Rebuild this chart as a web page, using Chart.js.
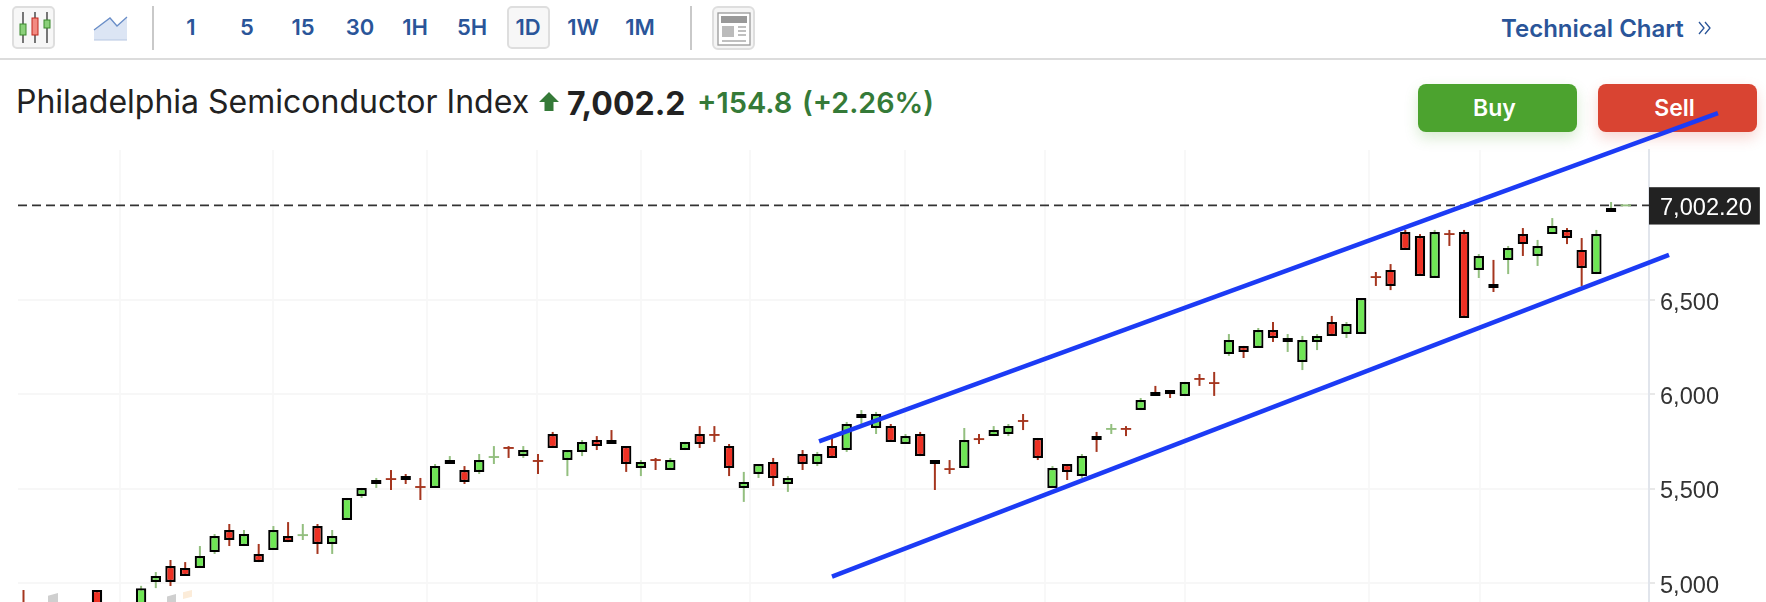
<!DOCTYPE html>
<html>
<head>
<meta charset="utf-8">
<title>Philadelphia Semiconductor Index</title>
<script src="https://cdn.jsdelivr.net/npm/chart.js@4/dist/chart.umd.min.js"></script>
<style>
  html, body { margin: 0; padding: 0; background: #fff; width: 1766px; height: 602px; overflow: hidden; font-family: Inter, sans-serif; }
  #myChart { position: absolute; left: 0; top: 0; z-index: 5; pointer-events: none; }
  .abs { position: absolute; white-space: nowrap; }
  .tf { position: absolute; top: 6px; height: 43px; line-height: 43px; width: 42px; text-align: center; font-size: 22px; font-weight: 600; color: #2a5599; }
  .btnbox { position: absolute; top: 6px; height: 39px; border: 2px solid #dedede; border-radius: 5px; background: #f7f7f7; }
  .sep { position: absolute; top: 6px; width: 2px; height: 44px; background: #c9c9c9; }
  .trade { position: absolute; top: 84px; height: 48px; line-height: 48px; border-radius: 8px; color: #fff; text-align: center; font-size: 23px; font-weight: 600; box-sizing: border-box; padding-right: 6px; }
</style>
</head>
<body>

<!-- toolbar -->
<div class="btnbox" style="left:12px;width:39px"></div>
<svg class="abs" style="left:0;top:0" width="760" height="58">
  <path d="M23 12V43M35 12V43M47 12V43" stroke="#333" stroke-width="1.3"/>
  <rect x="20" y="24" width="6" height="11" fill="#8bd07a" stroke="#3a8a2c"/>
  <rect x="32" y="18" width="6" height="17" fill="#f28b82" stroke="#c0271d"/>
  <rect x="44" y="20" width="6" height="8" fill="#8bd07a" stroke="#3a8a2c"/>
  <path d="M94 30L110 18L117 26L127 17V40H94Z" fill="#dce5f4"/>
  <path d="M94 30L110 18L117 26L127 17" fill="none" stroke="#6a8ec8" stroke-width="1.3"/>
  <path d="M94 40H127" stroke="#b6c6e2" stroke-width="1"/>
  <rect x="713" y="7" width="41" height="42" rx="5" fill="#f5f5f5" stroke="#dedede" stroke-width="2"/>
  <rect x="718" y="13" width="32" height="32" fill="#fff" stroke="#999" stroke-width="1.3"/>
  <rect x="721" y="16" width="26" height="7" fill="#999"/>
  <rect x="722" y="26" width="12" height="11" fill="#bbb"/>
  <path d="M738 27H746M738 31H746M738 35H746M722 41H746" stroke="#aaa" stroke-width="1.5"/>
</svg>
<div class="sep" style="left:152px"></div>
<div class="btnbox" style="left:507px;width:39px"></div>
<div class="tf" style="left:170px">1</div>
<div class="tf" style="left:226px">5</div>
<div class="tf" style="left:282px">15</div>
<div class="tf" style="left:339px">30</div>
<div class="tf" style="left:394px">1H</div>
<div class="tf" style="left:451px">5H</div>
<div class="tf" style="left:507px">1D</div>
<div class="tf" style="left:562px">1W</div>
<div class="tf" style="left:619px">1M</div>
<div class="sep" style="left:690px"></div>
<div class="abs" style="left:1501px;top:15px;font-size:24px;font-weight:600;color:#2a5599;line-height:28px">Technical Chart</div>
<svg class="abs" style="left:1697px;top:20px" width="16" height="16">
  <path d="M2 2L7 8L2 14M8 2L13 8L8 14" fill="none" stroke="#2a5599" stroke-width="1.3"/>
</svg>
<div class="abs" style="left:0;top:58px;width:1766px;height:2px;background:#dcdcdc"></div>

<!-- title row -->
<div class="abs" style="left:16px;top:84px;font-size:32px;line-height:36px;color:#222">Philadelphia Semiconductor Index</div>
<svg class="abs" style="left:539px;top:92px" width="20" height="20">
  <path d="M10 0L20 10H14.5V19H5.5V10H0Z" fill="#357a38"/>
</svg>
<div class="abs" style="left:567px;top:84px;font-size:32px;line-height:40px;font-weight:700;color:#222">7,002.2</div>
<div class="abs" style="left:697px;top:85px;font-size:29px;line-height:36px;font-weight:600;color:#357a38">+154.8</div>
<div class="abs" style="left:802px;top:85px;font-size:28.7px;line-height:36px;font-weight:600;color:#357a38">(+2.26%)</div>
<div class="trade" style="left:1418px;width:159px;background:#4ca32f;box-shadow:0 6px 14px rgba(76,163,47,.22)">Buy</div>
<div class="trade" style="left:1598px;width:159px;background:#d94432;box-shadow:0 6px 14px rgba(217,68,50,.22)">Sell</div>

<!-- watermark, only its top edge shows -->
<div class="abs" style="left:48px;top:593px;width:10px;height:9px;background:#cfcfcf;clip-path:polygon(0 30%,100% 0,100% 100%,0 100%)"></div>
<div class="abs" style="left:167px;top:594px;width:9px;height:8px;background:#cfcfcf;clip-path:polygon(0 30%,100% 0,100% 100%,0 100%)"></div>
<div class="abs" style="left:183px;top:590px;width:9px;height:9px;background:#fcecd9;clip-path:polygon(0 25%,100% 0,100% 75%,0 100%)"></div>

<canvas id="myChart" width="1766" height="602"></canvas>

<script>
const opens = [
  4890, 4860, 4870, 4850, 4865, 4963, 4880, 4870, 4860, 5005,
  5090, 5080, 5080, 5164, 5281, 5196, 5154, 5175, 5249, 5253,
  5302, 5207, 5334, 5461, 5525, 5552, 5567, 5510, 5504, 5631,
  5599, 5589, 5667, 5717, 5673, 5648, 5790, 5652, 5695, 5758,
  5758, 5726, 5610, 5653, 5599, 5705, 5790, 5786, 5726, 5504,
  5578, 5642, 5525, 5684, 5631, 5726, 5705, 5875, 5822, 5832,
  5737, 5790, 5652, 5605, 5610, 5764, 5779, 5790, 5860, 5769,
  5504, 5631, 5567, 5779, 5816, 5818, 5917, 6013, 6023, 5992,
  6083, 6061, 6214, 6257, 6246, 6341, 6278, 6172, 6278, 6384,
  6320, 6320, 6623, 6660, 6861, 6840, 6617, 6851, 6861, 6660,
  6585, 6713, 6850, 6734, 6850, 6872, 6766, 6638, 6967, 7001.2
];
const highs = [
  4963, 4880, 4885, 4875, 4890, 4963, 4890, 4890, 4985, 5058,
  5122, 5111, 5196, 5260, 5313, 5281, 5207, 5302, 5323, 5313,
  5313, 5281, 5451, 5504, 5557, 5599, 5578, 5557, 5631, 5673,
  5620, 5684, 5726, 5726, 5726, 5684, 5801, 5705, 5758, 5779,
  5811, 5726, 5652, 5663, 5663, 5748, 5832, 5832, 5737, 5589,
  5631, 5663, 5567, 5705, 5695, 5769, 5854, 5917, 5907, 5843,
  5790, 5801, 5652, 5652, 5822, 5790, 5832, 5843, 5896, 5769,
  5620, 5631, 5684, 5801, 5843, 5832, 5981, 6045, 6023, 6066,
  6108, 6119, 6320, 6257, 6352, 6384, 6320, 6310, 6320, 6416,
  6384, 6511, 6649, 6691, 6872, 6850, 6872, 6872, 6872, 6744,
  6713, 6787, 6882, 6819, 6935, 6882, 6829, 6872, 7020, 7003.2
];
const lows = [
  4870, 4840, 4850, 4835, 4850, 4860, 4855, 4850, 4850, 4973,
  4984, 5037, 5080, 5154, 5196, 5196, 5111, 5175, 5217, 5228,
  5154, 5154, 5334, 5451, 5504, 5493, 5525, 5440, 5504, 5631,
  5525, 5578, 5631, 5663, 5663, 5578, 5716, 5567, 5673, 5705,
  5737, 5589, 5567, 5599, 5599, 5705, 5716, 5748, 5567, 5430,
  5557, 5514, 5483, 5599, 5620, 5663, 5695, 5843, 5790, 5748,
  5737, 5673, 5493, 5578, 5610, 5737, 5779, 5779, 5811, 5652,
  5504, 5546, 5557, 5695, 5790, 5779, 5917, 5992, 5981, 5992,
  6045, 5992, 6204, 6193, 6246, 6278, 6225, 6129, 6235, 6310,
  6299, 6320, 6575, 6553, 6766, 6628, 6617, 6787, 6405, 6617,
  6543, 6638, 6734, 6681, 6850, 6797, 6575, 6638, 6967, 7001.2
];
const closes = [
  4875, 4870, 4850, 4865, 4880, 4880, 4870, 4860, 4972, 5037,
  5005, 5037, 5143, 5249, 5228, 5260, 5111, 5281, 5217, 5255,
  5207, 5249, 5451, 5504, 5546, 5550, 5546, 5508, 5620, 5652,
  5536, 5652, 5669, 5715, 5705, 5646, 5716, 5705, 5748, 5726,
  5737, 5631, 5642, 5651, 5652, 5748, 5737, 5784, 5610, 5536,
  5631, 5557, 5557, 5631, 5684, 5663, 5843, 5896, 5896, 5748,
  5779, 5673, 5631, 5603, 5758, 5762, 5811, 5832, 5858, 5663,
  5610, 5589, 5673, 5758, 5818, 5816, 5970, 5992, 6002, 6066,
  6081, 6059, 6288, 6225, 6341, 6299, 6299, 6288, 6310, 6310,
  6373, 6511, 6621, 6575, 6766, 6628, 6861, 6849, 6405, 6734,
  6564, 6776, 6797, 6787, 6893, 6829, 6670, 6850, 6988, 7003.2
];

const lastPrice = 7002.2;
const priceTicks = [5000, 5500, 6000, 6500, lastPrice];
// vertical grid lines sit at month starts, between the candles
const monthLines = [6.54, 16.95, 27.43, 34.93, 42, 49.42, 59.97, 69.49, 79.01, 91.53, 99.08];

// hand drawn channel
const upperChannelX = [54.12, 115.27];
const upperChannelY = [5751, 7491];
const lowerChannelX = [55, 111.94];
const lowerChannelY = [5034, 6740];

const xMin = -0.374;
const xMax = 110.58;
const yMin = 4899.3;
const yMax = 7295.8;

const upFill = '#6fe655';
const downFill = '#ee3124';
const upWick = '#93bf7f';
const downWick = '#a5361f';
const dojiLimit = 2;

const isUp = i => closes[i] > opens[i];
const isDoji = i => Math.abs(closes[i] - opens[i]) <= dojiLimit;
const days = opens.map((o, i) => i);
const bodyDays = days.filter(i => !isDoji(i));
const dojiDays = days.filter(isDoji);

function linePoints(xs, ys) {
  return xs.map((x, i) => ({ x: x, y: ys[i] }));
}

const ctx = document.getElementById('myChart');

const myChart = new Chart(ctx, {
  type: 'bar',
  data: {
    datasets: [
      {
        type: 'line',
        data: linePoints(upperChannelX, upperChannelY),
        borderColor: '#1c3bf5',
        borderWidth: 4.5,
        pointRadius: 0,
        clip: false,
        order: 0
      },
      {
        type: 'line',
        data: linePoints(lowerChannelX, lowerChannelY),
        borderColor: '#1c3bf5',
        borderWidth: 4.5,
        pointRadius: 0,
        clip: false,
        order: 0
      },
      {
        // candle bodies
        data: bodyDays.map(i => ({ x: i, y: [opens[i], closes[i]] })),
        backgroundColor: bodyDays.map(i => isUp(i) ? upFill : downFill),
        borderColor: '#000',
        borderWidth: 2.2,
        borderSkipped: false,
        inflateAmount: 0,
        barThickness: 10.4,
        grouped: false,
        order: 1
      },
      {
        // open and close about equal: a flat dash in the wick colour
        data: dojiDays.map(i => ({ x: i, y: [(opens[i] + closes[i]) / 2 - 5, (opens[i] + closes[i]) / 2 + 5] })),
        backgroundColor: dojiDays.map(i => isUp(i) ? upWick : downWick),
        borderWidth: 0,
        inflateAmount: 0,
        barThickness: 10.4,
        grouped: false,
        order: 1
      },
      {
        // wicks
        data: days.map(i => ({ x: i, y: [lows[i], highs[i]] })),
        backgroundColor: days.map(i => isUp(i) ? upWick : downWick),
        borderWidth: 0,
        inflateAmount: 0,
        barThickness: 2,
        grouped: false,
        order: 2
      },
      {
        type: 'line',
        data: linePoints([xMin, xMax], [lastPrice, lastPrice]),
        borderColor: '#333',
        borderWidth: 1.6,
        borderDash: [9, 5],
        pointRadius: 0,
        order: 3
      }
    ]
  },
  options: {
    responsive: false,
    animation: false,
    events: [],
    layout: { padding: { left: 18, top: 150, right: 0, bottom: 0 } },
    plugins: { legend: { display: false }, tooltip: { enabled: false } },
    scales: {
      x: {
        type: 'linear',
        min: xMin,
        max: xMax,
        offset: false,
        grid: { offset: false, color: '#f8f8f8', lineWidth: 2, drawTicks: false },
        border: { display: false },
        ticks: { display: false, autoSkip: false },
        afterBuildTicks: axis => { axis.ticks = monthLines.map(v => ({ value: v })); },
        afterFit: axis => { axis.height = 0; }
      },
      y: {
        position: 'right',
        min: yMin,
        max: yMax,
        grid: {
          color: c => c.tick && c.tick.value === lastPrice ? 'transparent' : '#f7f7f7',
          tickColor: c => c.tick && c.tick.value === lastPrice ? 'transparent' : '#e8e8e8',
          lineWidth: 2,
          tickLength: 6
        },
        border: { color: '#e1e5ec', width: 2 },
        ticks: {
          autoSkip: false,
          padding: 5,
          align: 'center',
          crossAlign: 'near',
          labelOffset: 3,
          font: { family: 'Liberation Sans', size: 23.6 },
          color: c => c.tick.value === lastPrice ? '#fff' : '#333',
          showLabelBackdrop: c => c.tick.value === lastPrice,
          backdropColor: '#222',
          backdropPadding: { left: 12, right: 8, top: 7, bottom: 2 },
          callback: v => v === lastPrice
            ? v.toLocaleString('en-US', { minimumFractionDigits: 2 })
            : v.toLocaleString('en-US')
        },
        afterBuildTicks: axis => { axis.ticks = priceTicks.map(v => ({ value: v })); },
        afterFit: axis => {
          // no room kept for the half height of the end labels
          axis.width = 117;
          axis.paddingTop = 0;
          axis.paddingBottom = 0;
        }
      }
    }
  }
});
</script>
</body>
</html>
